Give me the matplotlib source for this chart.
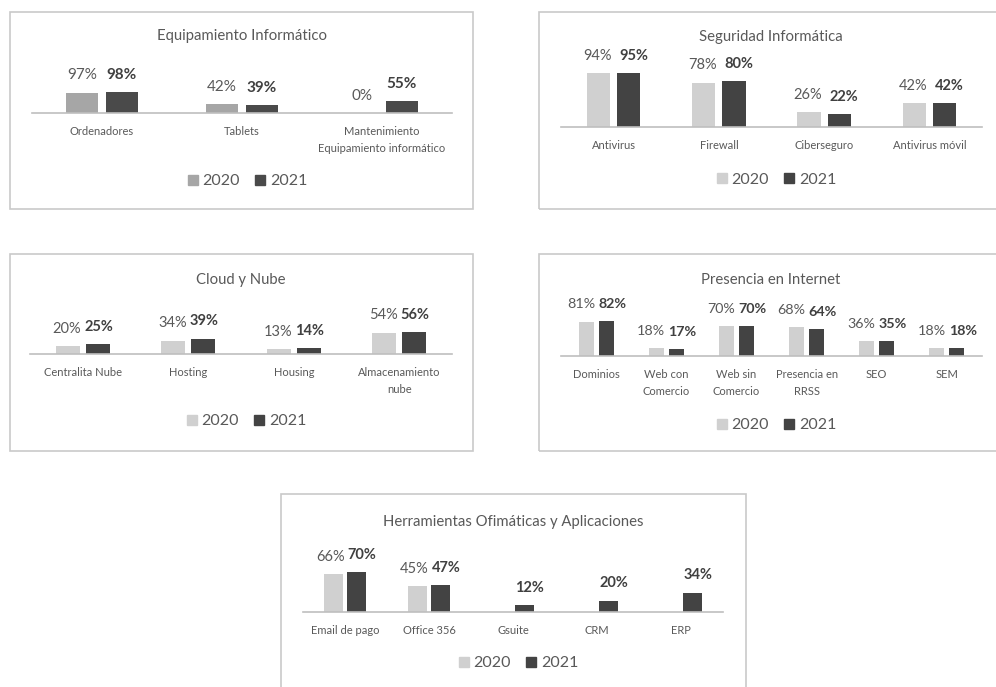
import matplotlib
matplotlib.use("Agg")
import matplotlib.pyplot as plt
from matplotlib.patches import Rectangle
from matplotlib.lines import Line2D

W, H = 996, 687
plt.rcParams['font.family'] = ['Lato', 'DejaVu Sans']

YEARS = ["2020", "2021"]

# Equipamiento Informático
equip_cats = ["Ordenadores", "Tablets", "Mantenimiento\nEquipamiento informático"]
equip_2020 = [97, 42, 0]
equip_2021 = [98, 39, 55]

# Seguridad Informática
segur_cats = ["Antivirus", "Firewall", "Ciberseguro", "Antivirus móvil"]
segur_2020 = [94, 78, 26, 42]
segur_2021 = [95, 80, 22, 42]

# Cloud y Nube
cloud_cats = ["Centralita Nube", "Hosting", "Housing", "Almacenamiento\nnube"]
cloud_2020 = [20, 34, 13, 54]
cloud_2021 = [25, 39, 14, 56]

# Presencia en Internet
pres_cats = ["Dominios", "Web con\nComercio", "Web sin\nComercio", "Presencia en\nRRSS", "SEO", "SEM"]
pres_2020 = [81, 18, 70, 68, 36, 18]
pres_2021 = [82, 17, 70, 64, 35, 18]

# Herramientas Ofimáticas y Aplicaciones (no 2020 figure for the last three)
herr_cats = ["Email de pago", "Office 356", "Gsuite", "CRM", "ERP"]
herr_2020 = [66, 45, None, None, None]
herr_2021 = [70, 47, 12, 20, 34]

TEXT = '#595959'
DARK_TEXT = '#404040'
BORDER = '#c9c9c9'
AXIS = '#bfbfbf'


def fx(x):
    return x / W


def fy(y):
    return 1 - y / H


fig = plt.figure(figsize=(W / 100, H / 100), dpi=100)
fig.patch.set_facecolor('white')


def panel(title, cats, v20, v21, box, plot, title_xy, legend_xy,
          colors, width=0.225, off=0.142, label_size=10.5, nudge=(0, 0)):
    bx0, by0, bx1, by1 = box
    fig.patches.append(Rectangle((fx(bx0), fy(by1)), fx(bx1) - fx(bx0),
                                 fy(by0) - fy(by1), transform=fig.transFigure,
                                 fill=False, edgecolor=BORDER, lw=1.2))
    left, right, base, scale = plot
    ax_h = 100
    ax = fig.add_axes([fx(left), fy(base), fx(right) - fx(left), ax_h / H])
    ax.patch.set_visible(False)
    n = len(cats)
    ax.set_xlim(-0.5, n - 0.5)
    ax.set_ylim(0, ax_h / scale * 100)
    for s in ('top', 'right', 'left'):
        ax.spines[s].set_visible(False)
    ax.spines['bottom'].set_color(AXIS)
    ax.spines['bottom'].set_linewidth(1.2)
    ax.set_yticks([])
    ax.set_xticks(range(n))
    ax.set_xticklabels(cats, fontsize=8, color=TEXT, linespacing=1.6)
    ax.tick_params(axis='x', length=0, pad=9.5)

    # nudge is given in pixels; offsets below are in points
    pt = 72 / 100
    for i in range(n):
        for vals, sign, col, weight, tcol, dx in (
                (v20, -1, colors[0], 'normal', TEXT, nudge[0]),
                (v21, 1, colors[1], 'bold', DARK_TEXT, nudge[1])):
            v = vals[i]
            if v is None:
                continue
            xc = i + sign * off
            ax.bar(xc, v, width=width, color=col, zorder=2)
            ax.annotate(f"{v}%", (xc, v), xytext=(dx * pt, 9.5),
                        textcoords='offset points', ha='center',
                        va='baseline', fontsize=label_size, color=tcol,
                        fontweight=weight, annotation_clip=False)

    fig.text(fx(title_xy[0]), fy(title_xy[1]), title, ha='center',
             va='center', fontsize=10.7, color=TEXT)

    handles = [Line2D([], [], marker='s', ls='', color=c, markersize=7)
               for c in colors]
    fig.legend(handles, YEARS, loc='center',
               bbox_to_anchor=(fx(legend_xy[0]), fy(legend_xy[1])),
               ncol=2, frameon=False, fontsize=11.5, handletextpad=0.1,
               columnspacing=0.8, handlelength=1.0, labelcolor=TEXT,
               borderpad=0, borderaxespad=0)


LIGHT = '#d0d0d0'
MID = '#a6a6a6'
DARK = '#434343'

panel("Equipamiento Informático", equip_cats, equip_2020, equip_2021,
      box=(10, 12, 473, 209), plot=(32, 452, 113, 21),
      title_xy=(242, 36), legend_xy=(246, 181), colors=(MID, '#4a4a4a'),
      label_size=11)

panel("Seguridad Informática", segur_cats, segur_2020, segur_2021,
      box=(539, 12, 1005, 209), plot=(561, 982, 127, 57),
      title_xy=(771, 37), legend_xy=(775, 180), colors=(LIGHT, DARK),
      width=0.22, off=0.143, nudge=(-1, 5))

panel("Cloud y Nube", cloud_cats, cloud_2020, cloud_2021,
      box=(10, 254, 473, 451), plot=(30, 452, 354, 39.5),
      title_xy=(241, 280), legend_xy=(245, 421), colors=(LIGHT, DARK),
      nudge=(-1, 1))

panel("Presencia en Internet", pres_cats, pres_2020, pres_2021,
      box=(539, 254, 1005, 451), plot=(561, 982, 356, 42.5),
      title_xy=(771, 280), legend_xy=(775, 425), colors=(LIGHT, DARK),
      width=0.215, off=0.143, label_size=10.3, nudge=(-5, 6))

panel("Herramientas Ofimáticas y Aplicaciones", herr_cats, herr_2020, herr_2021,
      box=(281, 494, 746, 700), plot=(303, 723, 612, 57),
      title_xy=(513, 522), legend_xy=(517, 663), colors=(LIGHT, DARK),
      nudge=(-3, 5))

fig.savefig("out.png", dpi=100, facecolor='white')
